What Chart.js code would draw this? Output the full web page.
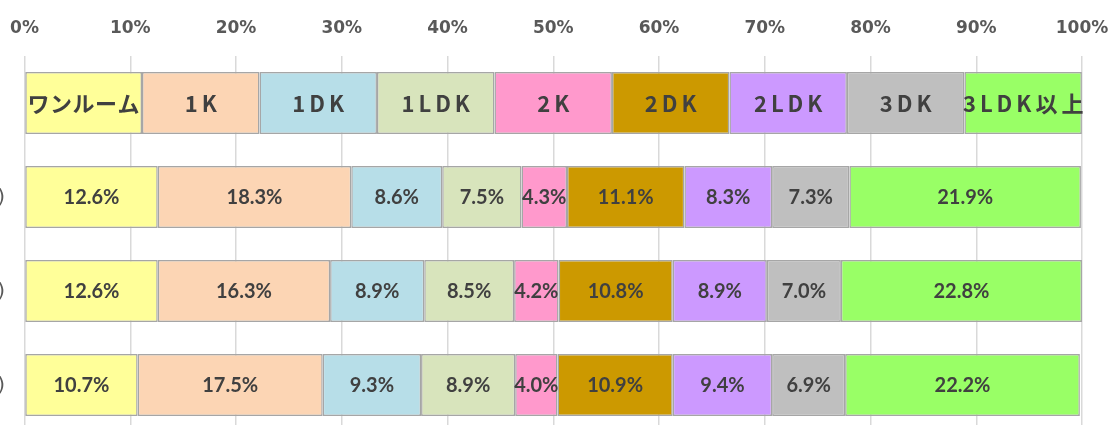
<!DOCTYPE html>
<html>
<head>
<meta charset="utf-8">
<script src="https://cdn.jsdelivr.net/npm/chart.js@4/dist/chart.umd.min.js"></script>
<style>
html,body{margin:0;padding:0;background:#fff;overflow:hidden;width:1113px;height:425px;}
#wrap{position:absolute;left:0;top:0;width:1113px;height:440px;}
</style>
</head>
<body>
<div id="wrap"><canvas id="c" width="1113" height="440"></canvas></div>
<script>
// Categories (room types)
const roomTypes = ['ワンルーム','1K','1DK','1LDK','2K','2DK','2LDK','3DK','3LDK以上'];
const roomColors = ['#FFFF99','#FCD5B4','#B7DEE8','#D8E4BC','#FF99CC','#CC9900','#CC99FF','#BFBFBF','#99FF66'];
// Row labels (left part of the image is cropped; only ")" is visible)
const rowLabels = ['', ')', ')', ')'];
// Header row: equal-width legend segments
const headerRow = [11.11,11.11,11.11,11.11,11.11,11.11,11.11,11.11,11.11];
// Series values per row (percent)
const row1 = [12.6, 18.3, 8.6, 7.5, 4.3, 11.1, 8.3, 7.3, 21.9];
const row2 = [12.6, 16.3, 8.9, 8.5, 4.2, 10.8, 8.9, 7.0, 22.8];
const row3 = [10.7, 17.5, 9.3, 8.9, 4.0, 10.9, 9.4, 6.9, 22.2];
const xTicks = [0,10,20,30,40,50,60,70,80,90,100];

const datasets = roomTypes.map((name, i) => ({
  label: name,
  data: [headerRow[i], row1[i], row2[i], row3[i]],
  backgroundColor: roomColors[i],
  borderColor: '#A6A6A6',
  borderWidth: 1.5,
  borderSkipped: false,
  barPercentage: 0.66,
  categoryPercentage: 1.0
}));

const labelPlugin = {
  id: 'segLabels',
  afterDatasetsDraw(chart) {
    const ctx = chart.ctx;
    ctx.save();
    ctx.textAlign = 'center';
    ctx.textBaseline = 'middle';
    ctx.fillStyle = '#404040';
    chart.data.datasets.forEach((ds, di) => {
      const meta = chart.getDatasetMeta(di);
      meta.data.forEach((el, idx) => {
        const cx = (el.x + el.base) / 2;
        const cy = el.y;
        if (idx === 0) {
          const kata = ds.label === 'ワンルーム';
          const sp = kata ? 0.5 : 4;
          ctx.font = 'bold 22px "Noto Sans CJK JP"';
          ctx.letterSpacing = sp + 'px';
          ctx.fillText(ds.label, cx + sp / 2, cy + 1);
          ctx.letterSpacing = '0px';
        } else {
          ctx.font = 'bold 20px Lato';
          ctx.fillText(ds.data[idx].toFixed(1) + '%', cx, cy + 1);
        }
      });
    });
    // row labels (cropped at left in the original)
    const yScale = chart.scales.y;
    ctx.textAlign = 'right';
    ctx.fillStyle = '#595959';
    ctx.font = '20px "DejaVu Sans"';
    rowLabels.forEach((lab, i) => {
      if (lab) ctx.fillText(lab, 5, yScale.getPixelForValue(i) + 1);
    });
    ctx.restore();
  }
};

const pad = { left: 24.5, right: 31, top: 13, bottom: 8 };
const chart = new Chart(document.getElementById('c'), {
  type: 'bar',
  data: { labels: rowLabels, datasets },
  options: {
    indexAxis: 'y',
    responsive: false,
    animation: false,
    layout: { padding: pad },
    plugins: { legend: { display: false }, tooltip: { enabled: false } },
    scales: {
      x: {
        position: 'top',
        stacked: true,
        min: 0, max: 100,
        afterBuildTicks(scale) { scale.ticks = xTicks.map(v => ({ value: v })); },
        afterFit(scale) { scale.paddingLeft = 0; scale.paddingRight = 0; },
        ticks: {
          callback: v => v + '%',
          color: '#595959',
          font: { family: 'DejaVu Sans', weight: 'bold', size: 17 },
          padding: 17,
          maxRotation: 0
        },
        grid: { color: '#D9D9D9', lineWidth: 1.5, drawTicks: false },
        border: { display: false }
      },
      y: {
        stacked: true,
        display: false
      }
    }
  },
  plugins: [labelPlugin]
});

// Nudge layout padding so the plot area lands where it is in the original
const target = { left: 24.5, right: 1082, top: 56, bottom: 432 };
for (let k = 0; k < 3; k++) {
  const a = chart.chartArea;
  pad.left += target.left - a.left;
  pad.right += a.right - target.right;
  pad.top += target.top - a.top;
  pad.bottom += a.bottom - target.bottom;
  chart.options.layout.padding = Object.assign({}, pad);
  chart.update();
}
</script>
</body>
</html>
